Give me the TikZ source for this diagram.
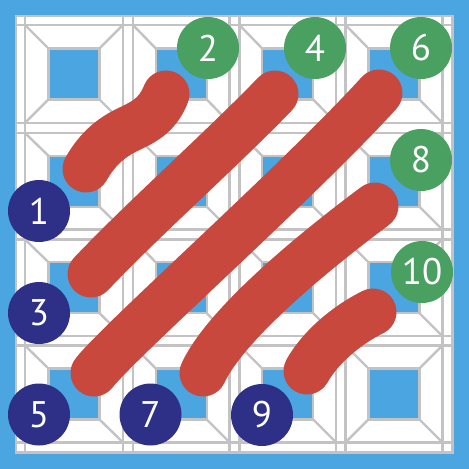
\documentclass[tikz,border=0pt]{standalone}
\usepackage{fontspec}
\newfontfamily\numfont{PT Sans}
\definecolor{bblue}{RGB}{74,165,225}
\definecolor{lgray}{RGB}{195,195,195}
\definecolor{rred}{RGB}{200,72,62}
\definecolor{ggreen}{RGB}{74,160,96}
\definecolor{navy}{RGB}{46,48,136}
\begin{document}
\begin{tikzpicture}[x=1pt,y=-1pt,
  gridline/.style={draw=lgray,line width=2.4pt},
  redstroke/.style={draw=rred,line width=47pt,line cap=round},
  numcirc/.style={circle,minimum size=62pt,inner sep=0pt,text=white,
    font=\numfont\fontsize{37}{37}\selectfont},
  leftnum/.style={numcirc,fill=navy},
  rightnum/.style={numcirc,fill=ggreen}]
\useasboundingbox (0,0) rectangle (469,469);
\fill[bblue] (0,0) rectangle (469,469);
\fill[white] (15,15) rectangle (454,454);
% full-length grid lines
\foreach \a in {16.2,122.9,229.5,336.0,442.3,25.0,133.0,239.4,345.6,452.5}{
  \draw[gridline] (\a,15) -- (\a,454);
  \draw[gridline] (15,\a) -- (454,\a);
}
% cells
\foreach \xl/\xr in {25.0/122.9,133.0/229.5,239.4/336.0,345.6/442.3}{
  \foreach \yl/\yr in {25.0/122.9,133.0/229.5,239.4/336.0,345.6/442.3}{
    \pgfmathsetmacro\cx{(\xl+\xr)/2}
    \pgfmathsetmacro\cy{(\yl+\yr)/2}
    \draw[gridline] (\xl,\yl) -- (\cx-25.5,\cy-25.5);
    \draw[gridline] (\xr,\yl) -- (\cx+25.5,\cy-25.5);
    \draw[gridline] (\xl,\yr) -- (\cx-25.5,\cy+25.5);
    \draw[gridline] (\xr,\yr) -- (\cx+25.5,\cy+25.5);
    \draw[gridline,fill=bblue] (\cx-25.5,\cy-25.5) rectangle (\cx+25.5,\cy+25.5);
  }
}
% red strokes
\draw[redstroke] (86,169) .. controls (98,148) and (112,137) .. (129,129)
  .. controls (146,121) and (158,114) .. (166,94);
\draw[redstroke] (91,274) .. controls (142,220) and (224,147) .. (275,94);
\draw[redstroke] (94,373) .. controls (122,338) and (298,182) .. (379,93);
\draw[redstroke] (203,373) .. controls (224,328) and (300,262) .. (375,206);
\draw[redstroke] (307,371) .. controls (320,348) and (345,326) .. (373,312);
% numbered circles
\node[leftnum] (n1) at (39,211) {1};
\node[leftnum] (n3) at (39,313) {3};
\node[leftnum] (n5) at (39,414.5) {5};
\node[leftnum] (n7) at (150.5,414.5) {7};
\node[leftnum] (n9) at (262,415) {9};
\node[rightnum] (n2) at (208,48) {2};
\node[rightnum] (n4) at (315,48) {4};
\node[rightnum] (n6) at (421,48) {6};
\node[rightnum] (n8) at (421,160) {8};
\node[rightnum] (n10) at (422,272) {10};
\end{tikzpicture}
\end{document}
